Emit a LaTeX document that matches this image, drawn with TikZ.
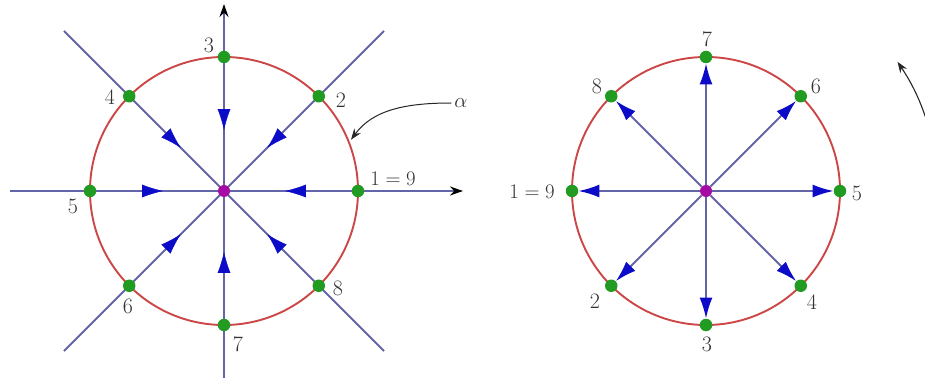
\documentclass[tikz,border=0pt]{standalone}
\usetikzlibrary{arrows.meta,decorations.markings,calc}
\definecolor{spokecol}{RGB}{100,100,168}
\definecolor{arrowblue}{RGB}{12,12,200}
\definecolor{circred}{RGB}{205,70,70}
\definecolor{dotgreen}{RGB}{34,155,34}
\definecolor{centmag}{RGB}{165,10,165}
\definecolor{labcol}{RGB}{50,50,50}
\begin{document}
\begin{tikzpicture}[x=1pt,y=1pt,
  spoke/.style={draw=spokecol,line width=1.9pt},
  ring/.style={draw=circred,line width=1.9pt},
  gdot/.style={circle,fill=dotgreen,inner sep=0pt,minimum size=12.5pt},
  mdot/.style={circle,fill=centmag,inner sep=0pt,minimum size=12pt},
  lab/.style={font=\fontsize{22}{26}\selectfont,text=labcol,inner sep=0pt},
  midarrow/.style={decoration={markings,mark=at position #1 with {\arrow{Latex[length=21pt,width=13pt,color=arrowblue]}}},decorate},
  axisarrow/.style={-{Stealth[length=13pt,width=9pt,color=black]}},
  outarrow/.style={-{Latex[length=21pt,width=13pt,color=arrowblue]}}
]
\useasboundingbox (0,0) rectangle (925,378);
% ---------------- left picture ----------------
\coordinate (c1) at (224,187);
\coordinate (hl) at (10,187);  \coordinate (hr) at (463,187);
\coordinate (vb) at (224,0);   \coordinate (vt) at (224,374);
\coordinate (dtr) at (384,347); \coordinate (dbl) at (64,27);
\coordinate (dtl) at (64,347);  \coordinate (dbr) at (384,27);
\draw[spoke] (dbl) -- (dtr);
\draw[spoke] (dtl) -- (dbr);
\draw[spoke,axisarrow] (hl) -- (hr);
\draw[spoke,axisarrow] (vb) -- (vt);
\draw[ring] (c1) circle[radius=134];
\foreach \k in {0,...,7}{
  \coordinate (lp\k) at ($(c1)+(45*\k:134)$);
  \path[midarrow=0.545] (lp\k) -- (c1);
}
\foreach \k in {0,...,7}{
  \node[gdot] (l\k) at (lp\k) {};
}
\node[mdot] (m1) at (c1) {};
\node[lab] (la0) at (393,199) {$1=9$};
\node[lab] (la1) at (341,278) {2};
\node[lab] (la2) at (209,333) {3};
\node[lab] (la3) at (110,281) {4};
\node[lab] (la4) at (73,172) {5};
\node[lab] (la5) at (128,72) {6};
\node[lab] (la6) at (238,34) {7};
\node[lab] (la7) at (338,90) {8};
\node[lab,inner sep=3pt] (alpha) at (461,275) {$\alpha$};
\coordinate (aT) at ($(c1)+(22:137)$);
\draw[black!85,line width=1pt,-{Stealth[length=11pt,width=8pt]}]
  (alpha.west) .. controls +(-45,0) and +(22,30) .. (aT);
% ---------------- right picture ----------------
\coordinate (c2) at (706,187);
\draw[ring] (c2) circle[radius=134];
\node[mdot] (m2) at (c2) {};
\foreach \k in {0,...,7}{
  \node[gdot] (r\k) at ($(c2)+(45*\k:134)$) {};
  \draw[spoke,outarrow] (m2) -- (r\k);
}
\node[lab] (ra0) at (857,185) {5};
\node[lab] (ra1) at (816,292) {6};
\node[lab] (ra2) at (707,339) {7};
\node[lab] (ra3) at (597,292) {8};
\node[lab] (ra4) at (532,186) {$1=9$};
\node[lab] (ra5) at (595,77) {2};
\node[lab] (ra6) at (707,34) {3};
\node[lab] (ra7) at (812,76) {4};
% rotation arrow at far right (cut by the edge)
\begin{scope}
  \clip (0,0) rectangle (925,378);
  \draw[black!85,line width=1.1pt,-{Stealth[length=11pt,width=8pt]}]
    ($(c2)+(-12:231)$) arc[start angle=-12,end angle=34,radius=231];
\end{scope}
\end{tikzpicture}
\end{document}
